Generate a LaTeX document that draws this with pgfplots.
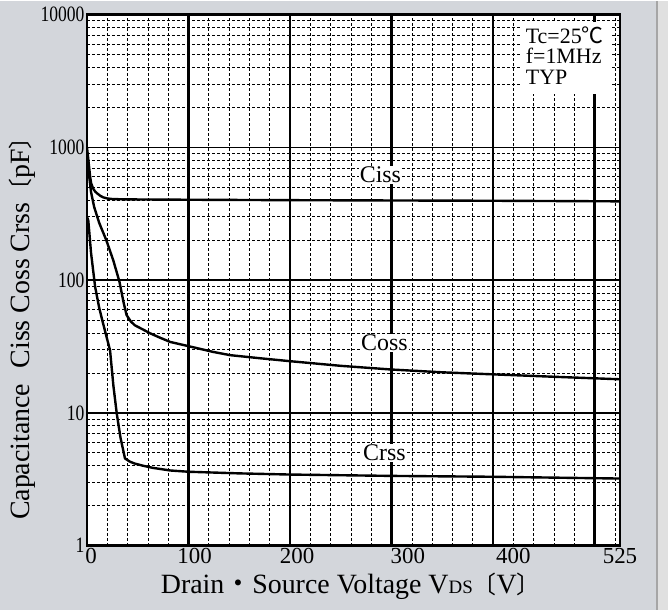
\documentclass[border=0pt]{standalone}
\usepackage{pgfplots}
\pgfplotsset{compat=1.18}
\usepackage{fontspec}
\setmainfont{Liberation Serif}
\newfontfamily\cjk{Noto Sans CJK JP}
\definecolor{bggray}{RGB}{211,214,219}
\newcommand{\yt}[1]{\scalebox{0.8}[1]{#1}}

\begin{document}
\begin{tikzpicture}[curve/.style={black, line width=2.4bp, no markers, line join=round}]
\fill[bggray] (-87bp,-64bp) rectangle (581bp,545bp);
\fill[black!12] (570bp,-64bp) rectangle (581bp,545bp);
\draw[black!35,line width=1.2bp] (570bp,-64bp) -- (570bp,545bp);

\begin{axis}[
  at={(0,0)}, anchor=south west,
  scale only axis, width=533bp, height=531bp,
  xmin=0, xmax=525,
  ymode=log, ymin=1, ymax=10000,
  axis background/.style={fill=white},
  axis line style={line width=2.6bp},
  xtick={4,106,207,316,420,525},
  xticklabels={0,100,200,300,400,525},
  minor xtick={20,40,...,520},
  ytick={1,10,100,1000,10000},
  yticklabels={\yt{1},\yt{10},\yt{100},\yt{1000},\yt{10000}},
  major tick length=0, minor tick length=0,
  ymajorgrids, yminorgrids, xminorgrids,
  major grid style={line width=1.4bp, black},
  minor grid style={line width=0.7bp, black, dash pattern=on 3bp off 2bp},
  extra x ticks={100,200,300,400,500},
  extra x tick labels={},
  extra x tick style={grid=major, major grid style={line width=2.3bp, black}},
  xticklabel style={font=\fontsize{23}{24}\selectfont, yshift=1bp},
  yticklabel style={font=\fontsize{22}{24}\selectfont, xshift=1bp},
  /pgf/number format/assume math mode=true,
  xlabel={Drain{\cjk ・}Source Voltage V{\fontsize{19}{19}\selectfont DS}{\cjk\fontsize{24}{24}\selectfont 〔}V{\cjk\fontsize{24}{24}\selectfont 〕}},
  ylabel={Capacitance\hspace{0.55em}Ciss Coss Crss{\cjk\fontsize{24}{24}\selectfont 〔}pF{\cjk\fontsize{24}{24}\selectfont 〕}},
  every axis x label/.style={at={(axis description cs:0.495,-0.077)}, anchor=center,
    font=\fontsize{28}{30}\selectfont},
  every axis y label/.style={at={(axis description cs:-0.122,0.42)}, anchor=center, rotate=90,
    font=\fontsize{28}{30}\selectfont},
]

% Ciss
\addplot[curve] coordinates {
  (0,1000) (1,850) (2,720) (3,610) (4,540) (6,490) (8,465) (10,450)
  (13,432) (16,420) (20,412) (25,408) (35,406) (50,405) (100,403)
  (200,400) (300,398) (400,396) (525,392)
};
% Coss
\addplot[curve] coordinates {
  (0,900) (2,620) (4,460) (7,357) (12,270) (19,200) (26,140) (32,97)
  (36,68) (39,54.5) (43,49) (47,45.7) (55,42.5) (62,39.8) (72,36.8)
  (82,34.2) (100,31.8) (124,28.8) (141,27.2) (170,25.8) (200,24.5)
  (250,22.6) (300,21.2) (350,20.2) (400,19.5) (460,18.7) (525,17.9)
};
% Crss
\addplot[curve] coordinates {
  (0,300) (1.3,280) (4,160) (8,89) (12,62) (15,50) (19,38) (22.7,29.6)
  (26,16) (29.3,9.9) (33,6.5) (37.4,4.54) (42,4.3) (47,4.15) (55,4.0)
  (65,3.85) (82,3.68) (100,3.6) (150,3.5) (200,3.43) (300,3.35)
  (400,3.3) (525,3.2)
};

\node[fill=white, inner sep=1bp, font=\fontsize{24}{24}\selectfont] at (axis cs:289,620) {Ciss};
\node[fill=white, inner sep=1bp, font=\fontsize{24}{24}\selectfont] at (axis cs:293,33.5) {Coss};
\node[fill=white, inner sep=1bp, font=\fontsize{24}{24}\selectfont] at (axis cs:293,5.0) {Crss};

\fill[white] (rel axis cs:0.813,0.986) rectangle (rel axis cs:0.985,0.851);
\node[anchor=north west, align=left, inner sep=0pt,
      font=\fontsize{22}{20.5}\selectfont]
  at (rel axis cs:0.823,0.978) {Tc=25{\cjk ℃}\\f=1MHz\\TYP};
\end{axis}
\end{tikzpicture}
\end{document}
